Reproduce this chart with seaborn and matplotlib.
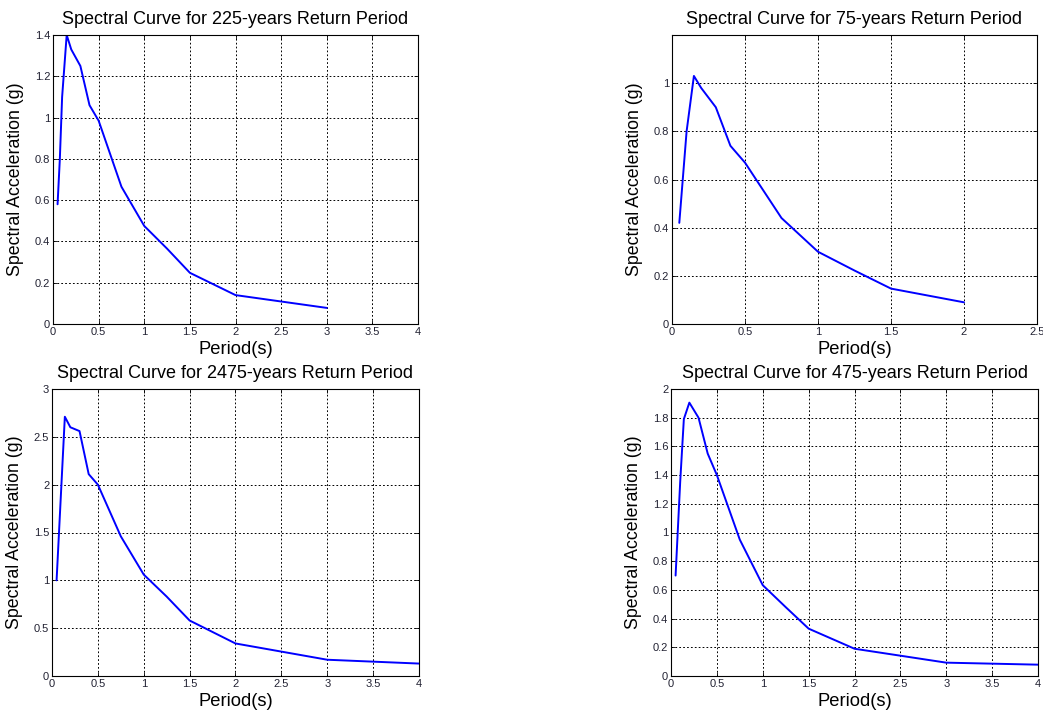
import matplotlib
matplotlib.use("Agg")
import matplotlib.pyplot as plt
import seaborn as sns
import numpy as np

# ---- data ----
period_225 = [0.05, 0.075, 0.1, 0.15, 0.2, 0.3, 0.4, 0.5, 0.75, 1.0, 1.25, 1.5, 2.0, 3.0]
sa_225 = [0.58, 0.80, 1.10, 1.40, 1.33, 1.25, 1.06, 0.985, 0.665, 0.475, 0.365, 0.248, 0.14, 0.078]

period_75 = [0.05, 0.1, 0.15, 0.2, 0.3, 0.4, 0.5, 0.75, 1.0, 1.25, 1.5, 2.0]
sa_75 = [0.42, 0.80, 1.03, 0.98, 0.90, 0.74, 0.67, 0.44, 0.30, 0.222, 0.147, 0.09]

period_2475 = [0.05, 0.1, 0.14, 0.2, 0.3, 0.4, 0.5, 0.75, 1.0, 1.25, 1.5, 2.0, 3.0, 3.5, 4.0]
sa_2475 = [1.0, 1.95, 2.71, 2.60, 2.56, 2.11, 2.0, 1.46, 1.06, 0.83, 0.58, 0.34, 0.17, 0.15, 0.13]

period_475 = [0.05, 0.1, 0.14, 0.2, 0.3, 0.4, 0.5, 0.75, 1.0, 1.25, 1.5, 2.0, 3.0, 3.5, 4.0]
sa_475 = [0.70, 1.35, 1.79, 1.905, 1.80, 1.55, 1.40, 0.95, 0.633, 0.48, 0.33, 0.19, 0.093, 0.086, 0.079]

titles = ["Spectral Curve for 225-years Return Period",
          "Spectral Curve for 75-years Return Period",
          "Spectral Curve for 2475-years Return Period",
          "Spectral Curve for 475-years Return Period"]

xticks_list = [[0, 0.5, 1, 1.5, 2, 2.5, 3, 3.5, 4],
               [0, 0.5, 1, 1.5, 2, 2.5],
               [0, 0.5, 1, 1.5, 2, 2.5, 3, 3.5, 4],
               [0, 0.5, 1, 1.5, 2, 2.5, 3, 3.5, 4]]
yticks_list = [[0, 0.2, 0.4, 0.6, 0.8, 1, 1.2, 1.4],
               [0, 0.2, 0.4, 0.6, 0.8, 1],
               [0, 0.5, 1, 1.5, 2, 2.5, 3],
               [0, 0.2, 0.4, 0.6, 0.8, 1, 1.2, 1.4, 1.6, 1.8, 2]]
xlims = [(0, 4), (0, 2.5), (0, 4), (0, 4)]
ylims = [(0, 1.4), (0, 1.2), (0, 3), (0, 2)]

sns.set_theme(style="white")
plt.rcParams['font.family'] = ['Liberation Sans', 'DejaVu Sans']

W, H = 1043, 712
fig = plt.figure(figsize=(W / 100, H / 100), dpi=100)

# axes boxes in pixel coords: left, top, right, bottom
boxes = [(53, 35, 418, 324), (672, 35, 1037, 324),
         (52, 389, 419, 676), (671, 389, 1038, 676)]

series = [(period_225, sa_225), (period_75, sa_75),
          (period_2475, sa_2475), (period_475, sa_475)]

def fmt(v):
    return f"{v:g}"

for i, (box, (px, sy)) in enumerate(zip(boxes, series)):
    l, t, r, b = box
    ax = fig.add_axes([l / W, 1 - b / H, (r - l) / W, (b - t) / H])
    sns.lineplot(x=px, y=sy, ax=ax, color="blue", linewidth=1.4)
    ax.set_xlim(*xlims[i])
    ax.set_ylim(*ylims[i])
    ax.set_xticks(xticks_list[i])
    ax.set_xticklabels([fmt(v) for v in xticks_list[i]])
    ax.set_yticks(yticks_list[i])
    ax.set_yticklabels([fmt(v) for v in yticks_list[i]])
    ax.grid(True, color="black", linestyle=(0, (1.8, 2.2)), linewidth=0.7)
    ax.tick_params(axis="both", direction="in", length=3, width=0.6,
                   labelsize=8, colors="black", pad=2,
                   bottom=True, left=True, top=True, right=True)
    for tl in ax.get_xticklabels() + ax.get_yticklabels():
        tl.set_color("#222233")
    for sp in ax.spines.values():
        sp.set_color("black")
        sp.set_linewidth(0.8)
        sp.set_visible(True)
    ax.set_title(titles[i], fontsize=13, color="black", pad=8)
    ax.set_xlabel("Period(s)", fontsize=13.2, color="black", labelpad=3)
    ax.set_ylabel("Spectral Acceleration (g)", fontsize=12.8, color="black", labelpad=8)

fig.savefig("out.png", dpi=100, facecolor="white")
